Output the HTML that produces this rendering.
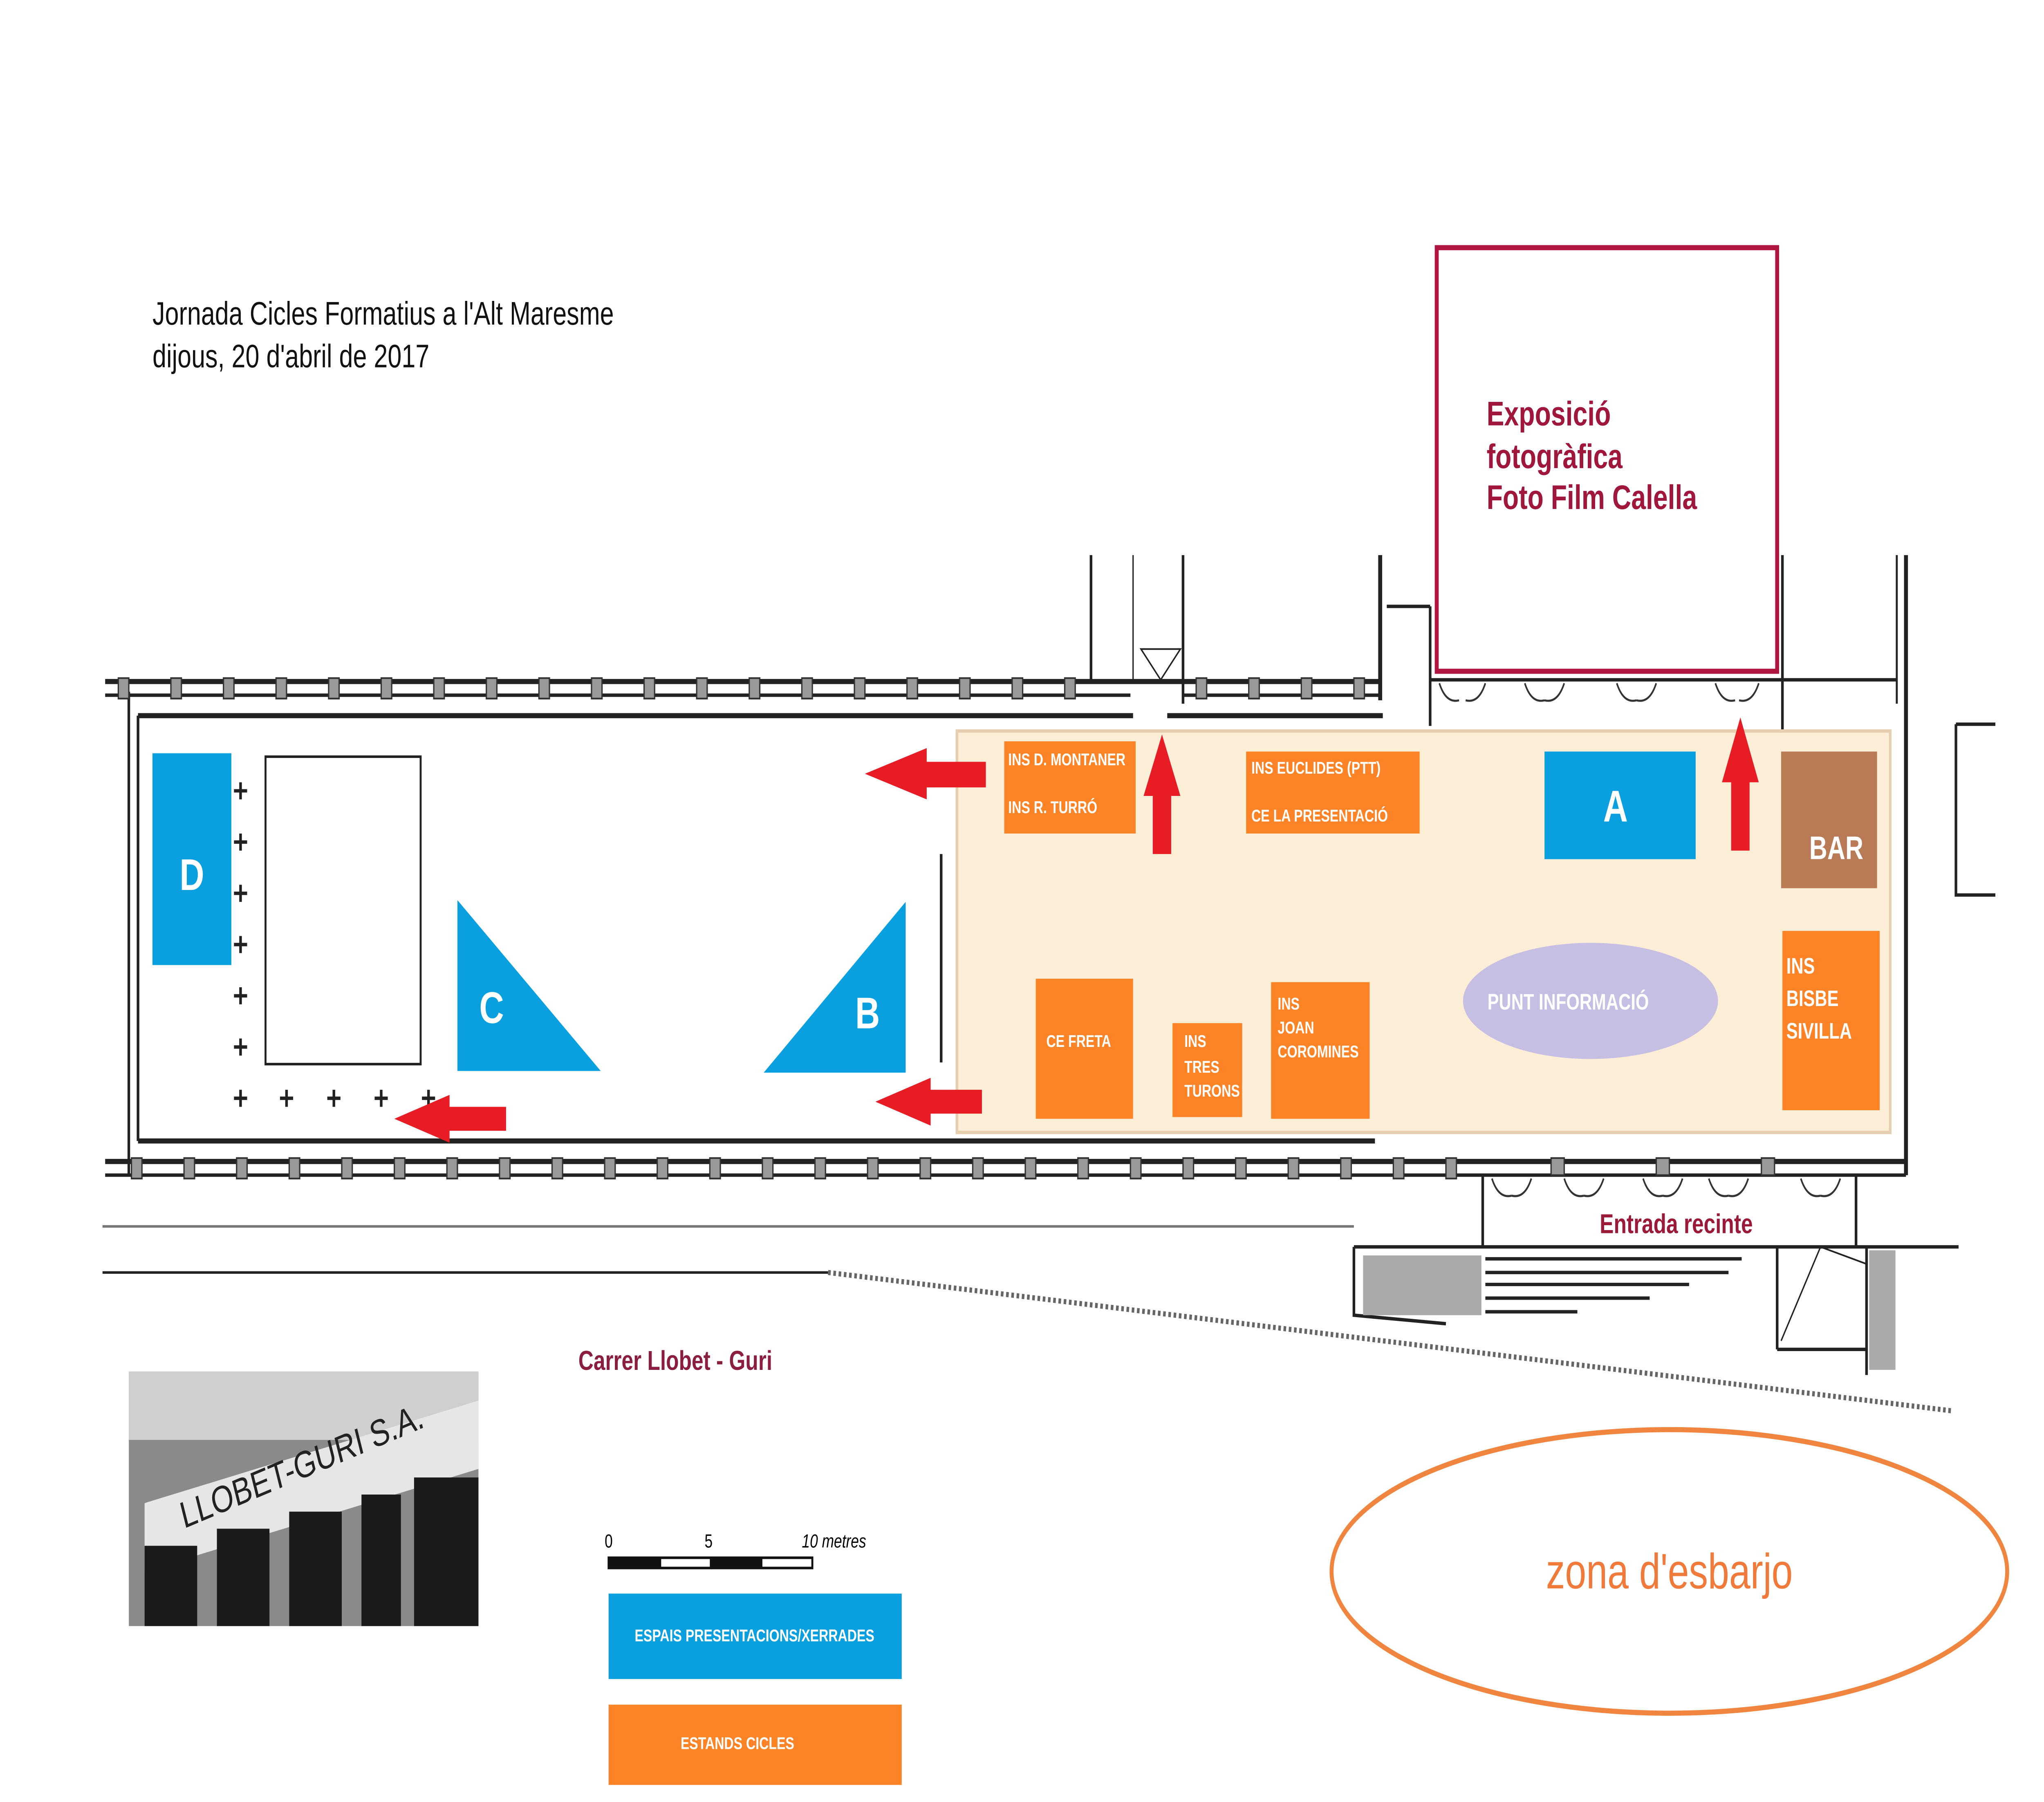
<!DOCTYPE html>
<html><head><meta charset="utf-8"><style>html,body{margin:0;padding:0;background:#fff;overflow:hidden;width:100vw;height:100vh}svg{display:block;width:100vw;height:100vh}</style></head>
<body>
<svg viewBox="0 0 1555 1055" preserveAspectRatio="none" xmlns="http://www.w3.org/2000/svg" font-family="Liberation Sans, sans-serif">
<rect width="1555" height="1055" fill="#fff"/>
<text x="116" y="190" font-size="19" fill="#111">Jornada Cicles Formatius a l'Alt Maresme</text>
<text x="116" y="215" font-size="19" fill="#111">dijous, 20 d'abril de 2017</text>
<rect x="1093" y="145" width="259" height="248" fill="#fff" stroke="#b0163f" stroke-width="3"/>
<text font-size="20" fill="#a0173d" font-weight="bold"><tspan x="1131" y="249">Exposició</tspan><tspan x="1131" y="274">fotogràfica</tspan><tspan x="1131" y="298">Foto Film Calella</tspan></text>
<g stroke="#222" fill="none">
<line x1="80" y1="399" x2="1050" y2="399" stroke-width="3"/>
<line x1="80" y1="407" x2="860" y2="407" stroke-width="2"/>
<line x1="900" y1="407" x2="1050" y2="407" stroke-width="2"/>
<line x1="105" y1="419" x2="862" y2="419" stroke-width="3"/>
<line x1="888" y1="419" x2="1052" y2="419" stroke-width="3"/>
<line x1="105" y1="419" x2="105" y2="668" stroke-width="2"/>
<line x1="98" y1="405" x2="98" y2="688" stroke-width="2"/>
<line x1="105" y1="668" x2="1046" y2="668" stroke-width="3"/>
<line x1="80" y1="680" x2="1450" y2="680" stroke-width="3"/>
<line x1="80" y1="688" x2="1450" y2="688" stroke-width="2"/>
<line x1="1050" y1="325" x2="1050" y2="410" stroke-width="3"/>
<line x1="1450" y1="325" x2="1450" y2="688" stroke-width="3"/>
<line x1="1443" y1="325" x2="1443" y2="412" stroke-width="1.5"/>
<line x1="1055" y1="355" x2="1088" y2="355" stroke-width="2"/>
<line x1="1088" y1="355" x2="1088" y2="425" stroke-width="2"/>
<line x1="1356" y1="325" x2="1356" y2="430" stroke-width="2"/>
<line x1="1088" y1="398" x2="1443" y2="398" stroke-width="2"/>
<line x1="830" y1="325" x2="830" y2="400" stroke-width="2"/>
<line x1="900" y1="325" x2="900" y2="412" stroke-width="2"/>
<line x1="862" y1="325" x2="862" y2="400" stroke-width="1"/>
<path d="M868 380 L898 380 L883 398 Z" stroke-width="1"/>
<path d="M1488 424 H1518 M1488 424 V524 H1518" stroke-width="2"/>
<line x1="716" y1="500" x2="716" y2="622" stroke-width="2"/>
<line x1="78" y1="718" x2="1030" y2="718" stroke-width="1.5" stroke="#777"/>
<line x1="78" y1="745" x2="630" y2="745" stroke-width="1.5"/>
<line x1="630" y1="745" x2="1485" y2="826" stroke-width="3" stroke="#666" stroke-dasharray="2 2"/>
<path d="M1128 688 V730 M1412 688 V730 M1030 730 H1490 M1030 730 V770 L1100 775 M1352 730 V790 M1352 790 H1420 M1420 730 V805" stroke-width="2"/>
<path d="M1385 730 L1355 785 M1385 730 L1420 740" stroke-width="1"/>
</g>
<rect x="1037" y="735" width="90" height="35" fill="#aaa"/>
<rect x="1422" y="732" width="20" height="70" fill="#aaa"/>
<g stroke="#222" stroke-width="2">
<line x1="1130" y1="737" x2="1325" y2="737"/><line x1="1130" y1="745" x2="1315" y2="745"/><line x1="1130" y1="752" x2="1285" y2="752"/><line x1="1130" y1="760" x2="1255" y2="760"/><line x1="1130" y1="768" x2="1200" y2="768"/>
</g>
<g fill="#999" stroke="#333" stroke-width="1">
<rect x="90" y="397" width="8" height="12"/><rect x="130" y="397" width="8" height="12"/><rect x="170" y="397" width="8" height="12"/><rect x="210" y="397" width="8" height="12"/><rect x="250" y="397" width="8" height="12"/><rect x="290" y="397" width="8" height="12"/><rect x="330" y="397" width="8" height="12"/><rect x="370" y="397" width="8" height="12"/><rect x="410" y="397" width="8" height="12"/><rect x="450" y="397" width="8" height="12"/><rect x="490" y="397" width="8" height="12"/><rect x="530" y="397" width="8" height="12"/><rect x="570" y="397" width="8" height="12"/><rect x="610" y="397" width="8" height="12"/><rect x="650" y="397" width="8" height="12"/><rect x="690" y="397" width="8" height="12"/><rect x="730" y="397" width="8" height="12"/><rect x="770" y="397" width="8" height="12"/><rect x="810" y="397" width="8" height="12"/><rect x="910" y="397" width="8" height="12"/><rect x="950" y="397" width="8" height="12"/><rect x="990" y="397" width="8" height="12"/><rect x="1030" y="397" width="8" height="12"/>
<rect x="100" y="678" width="8" height="12"/><rect x="140" y="678" width="8" height="12"/><rect x="180" y="678" width="8" height="12"/><rect x="220" y="678" width="8" height="12"/><rect x="260" y="678" width="8" height="12"/><rect x="300" y="678" width="8" height="12"/><rect x="340" y="678" width="8" height="12"/><rect x="380" y="678" width="8" height="12"/><rect x="420" y="678" width="8" height="12"/><rect x="460" y="678" width="8" height="12"/><rect x="500" y="678" width="8" height="12"/><rect x="540" y="678" width="8" height="12"/><rect x="580" y="678" width="8" height="12"/><rect x="620" y="678" width="8" height="12"/><rect x="660" y="678" width="8" height="12"/><rect x="700" y="678" width="8" height="12"/><rect x="740" y="678" width="8" height="12"/><rect x="780" y="678" width="8" height="12"/><rect x="820" y="678" width="8" height="12"/><rect x="860" y="678" width="8" height="12"/><rect x="900" y="678" width="8" height="12"/><rect x="940" y="678" width="8" height="12"/><rect x="980" y="678" width="8" height="12"/><rect x="1020" y="678" width="8" height="12"/><rect x="1060" y="678" width="8" height="12"/><rect x="1100" y="678" width="8" height="12"/><rect x="1180" y="678" width="10" height="10"/><rect x="1260" y="678" width="10" height="10"/><rect x="1340" y="678" width="10" height="10"/>
</g>
<g fill="none" stroke="#333" stroke-width="1.2">
<path d="M1095 400 q5 12 15 10 M1130 400 q-5 12 -15 10 M1160 400 q5 12 15 10 M1190 400 q-5 12 -15 10 M1230 400 q5 12 15 10 M1260 400 q-5 12 -15 10 M1305 400 q5 12 15 10 M1338 400 q-5 12 -15 10"/>
<path d="M1135 690 q5 12 15 10 M1165 690 q-5 12 -15 10 M1190 690 q5 12 15 10 M1220 690 q-5 12 -15 10 M1250 690 q5 12 15 10 M1280 690 q-5 12 -15 10 M1300 690 q5 12 15 10 M1330 690 q-5 12 -15 10 M1370 690 q5 12 15 10 M1400 690 q-5 12 -15 10"/>
</g>
<rect x="728" y="428" width="710" height="235" fill="#fdeed8" stroke="#e6cfae" stroke-width="2"/>
<rect x="202" y="443" width="118" height="180" fill="#fff" stroke="#222" stroke-width="1.5"/>
<g stroke="#222" stroke-width="2">
<path d="M178 463h10M183 458v10M178 493h10M183 488v10M178 523h10M183 518v10M178 553h10M183 548v10M178 583h10M183 578v10M178 613h10M183 608v10M178 643h10M183 638v10M213 643h10M218 638v10M249 643h10M254 638v10M285 643h10M290 638v10M321 643h10M326 638v10"/>
</g>
<rect x="116" y="441" width="60" height="124" fill="#0aa0e0"/>
<text x="146" y="521" font-size="26" font-weight="bold" fill="#fff" text-anchor="middle">D</text>
<polygon points="348,527 348,627 457,627" fill="#0aa0e0"/>
<text x="374" y="599" font-size="26" font-weight="bold" fill="#fff" text-anchor="middle">C</text>
<polygon points="689,528 689,628 581,628" fill="#0aa0e0"/>
<text x="660" y="602" font-size="26" font-weight="bold" fill="#fff" text-anchor="middle">B</text>
<rect x="1175" y="440" width="115" height="63" fill="#0aa0e0"/>
<text x="1229" y="481" font-size="26" font-weight="bold" fill="#fff" text-anchor="middle">A</text>
<rect x="1355" y="440" width="73" height="80" fill="#b87b55"/>
<text x="1397" y="503" font-size="19" font-weight="bold" fill="#fff" text-anchor="middle">BAR</text>
<g fill="#fd8426"><rect x="764" y="434" width="100" height="54"/><rect x="948" y="440" width="132" height="48"/><rect x="788" y="573" width="74" height="82"/><rect x="892" y="599" width="53" height="55"/><rect x="967" y="575" width="75" height="80"/><rect x="1356" y="545" width="74" height="105"/></g>
<g fill="#fff" font-size="10" font-weight="bold">
<text x="767" y="448">INS D. MONTANER</text><text x="767" y="476">INS R. TURRÓ</text>
<text x="952" y="453">INS EUCLIDES (PTT)</text><text x="952" y="481">CE LA PRESENTACIÓ</text>
<text x="796" y="613">CE FRETA</text>
<text x="901" y="613">INS</text><text x="901" y="628">TRES</text><text x="901" y="642">TURONS</text>
<text x="972" y="591">INS</text><text x="972" y="605">JOAN</text><text x="972" y="619">COROMINES</text>
<text x="1359" y="570" font-size="13">INS</text><text x="1359" y="589" font-size="13">BISBE</text><text x="1359" y="608" font-size="13">SIVILLA</text>
</g>
<ellipse cx="1210" cy="586" rx="97" ry="34" fill="#c6bfe4"/>
<text x="1193" y="591" font-size="13" font-weight="bold" fill="#fff" text-anchor="middle">PUNT INFORMACIÓ</text>
<g fill="#e81c24">
<polygon points="658,453 705,438 705,446 750,446 750,461 705,461 705,468"/>
<polygon points="666,645 708,631 708,638 747,638 747,652 708,652 708,659"/>
<polygon points="300,655 342,641 342,648 385,648 385,662 342,662 342,669"/>
<polygon points="884,430 870,466 877,466 877,500 891,500 891,466 898,466"/>
<polygon points="1324,420 1310,458 1317,458 1317,498 1331,498 1331,458 1338,458"/>
</g>
<text x="1217" y="722" font-size="16" font-weight="bold" fill="#9b1a3a">Entrada recinte</text>
<text x="440" y="802" font-size="16" font-weight="bold" fill="#8b1e3f">Carrer Llobet - Guri</text>
<rect x="98" y="803" width="266" height="149" fill="#8a8a8a"/>
<rect x="98" y="803" width="266" height="40" fill="#cfcfcf"/>
<polygon points="110,880 364,820 364,860 110,920" fill="#e6e6e6"/>
<g fill="#1a1a1a"><rect x="110" y="905" width="40" height="47"/><rect x="165" y="895" width="40" height="57"/><rect x="220" y="885" width="40" height="67"/><rect x="275" y="875" width="30" height="77"/><rect x="315" y="865" width="49" height="87"/></g>
<text x="140" y="895" font-size="22" fill="#222" transform="rotate(-18 140 895)">LLOBET-GURI S.A.</text>
<rect x="463" y="912" width="155" height="6" fill="none" stroke="#111" stroke-width="1.5"/>
<rect x="463" y="912" width="40" height="6" fill="#111"/><rect x="540" y="912" width="40" height="6" fill="#111"/>
<text x="460" y="906" font-size="11">0</text><text x="536" y="906" font-size="11">5</text><text x="610" y="906" font-size="11" font-style="italic">10 metres</text>
<rect x="463" y="933" width="223" height="50" fill="#0aa0e0"/>
<text x="574" y="961" font-size="10" font-weight="bold" fill="#fff" text-anchor="middle">ESPAIS PRESENTACIONS/XERRADES</text>
<rect x="463" y="998" width="223" height="47" fill="#fd8426"/>
<text x="561" y="1024" font-size="10" font-weight="bold" fill="#fff" text-anchor="middle">ESTANDS CICLES</text>
<ellipse cx="1270" cy="920" rx="257" ry="83" fill="none" stroke="#f0853f" stroke-width="3"/>
<text x="1270" y="930" font-size="29" fill="#f07a3a" text-anchor="middle">zona d'esbarjo</text>
</svg>
</body></html>
